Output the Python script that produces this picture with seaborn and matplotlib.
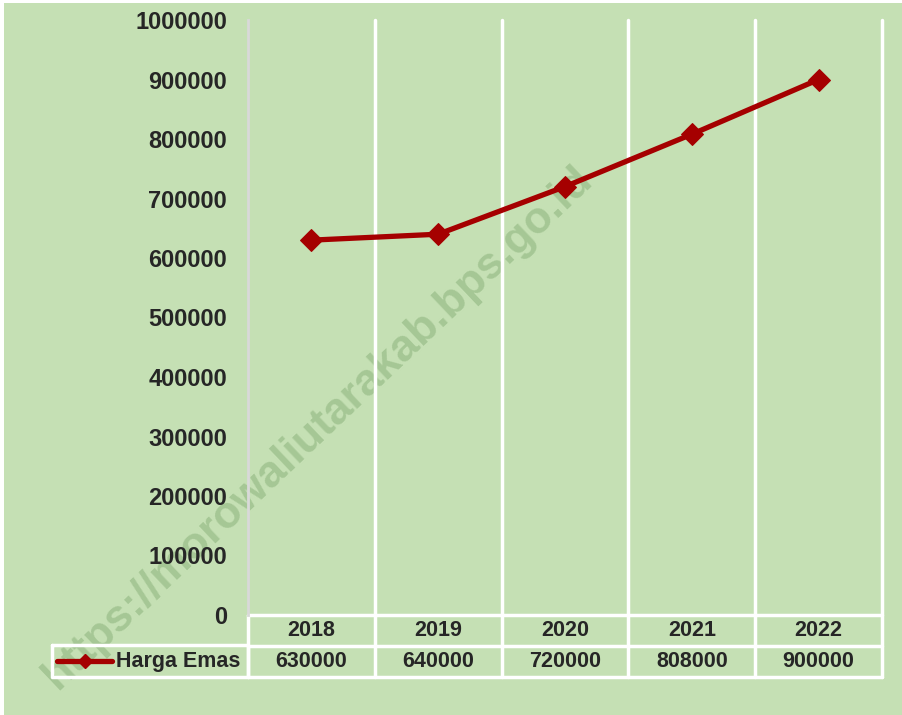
import numpy as np
import pandas as pd
import seaborn as sns
from matplotlib import pyplot as plt
from matplotlib.lines import Line2D
from matplotlib.patches import Rectangle

years = ['2018', '2019', '2020', '2021', '2022']
harga_emas = [630000, 640000, 720000, 808000, 900000]
series_name = 'Harga Emas'
y_ticks = list(range(0, 1000001, 100000))
watermark = 'https://morowaliutarakab.bps.go.id'

green = '#c5e0b4'
red = '#a50000'

sns.set_style('white')
plt.rcParams['font.family'] = ['Liberation Sans', 'DejaVu Sans']

W, H = 902, 715
fig = plt.figure(figsize=(W / 100, H / 100), dpi=100)
fig.patch.set_facecolor('white')
fig.patches.append(Rectangle((4 / W, 0), 1, 1 - 3 / H, transform=fig.transFigure,
                             facecolor=green, edgecolor='none', zorder=-10))

# plot area in pixels
x0, x1, ytop, ybot = 248, 882, 20, 615
ax = fig.add_axes([x0 / W, 1 - ybot / H, (x1 - x0) / W, (ybot - ytop) / H])
ax.patch.set_alpha(0)

df = pd.DataFrame({'year': years, 'value': harga_emas})
df['pos'] = np.arange(len(years))
sns.lineplot(data=df, x='pos', y='value', ax=ax, color=red, lw=3.8,
             marker='D', markersize=11, markeredgecolor=red, zorder=5)

ax.set_xlim(-0.5, len(years) - 0.5)
ax.set_ylim(0, 1000000)
ax.set_yticks(y_ticks)
ax.set_yticklabels([str(v) for v in y_ticks], fontsize=17, fontweight='bold')
ax.set_xticks([])
ax.set_xlabel('')
ax.set_ylabel('')
ax.tick_params(axis='y', length=0, pad=15)
for s in ['top', 'right', 'bottom']:
    ax.spines[s].set_visible(False)
ax.spines['left'].set_color('#d9d9d9')
ax.spines['left'].set_linewidth(2)

# category separators (white) through plot and table
row_h = 31 / (ybot - ytop)
tr = ax.get_xaxis_transform()
for b in np.arange(1, len(years) + 1) - 0.5:
    ax.plot([b, b], [1, -2 * row_h], transform=tr,
            color='white', lw=2.5, clip_on=False, zorder=1)

# data table
for yy in [0, -row_h, -2 * row_h]:
    ax.plot([-0.5, len(years) - 0.5], [yy, yy], transform=tr, color='white',
            lw=2.5, clip_on=False)
ax.plot([-0.5, -0.5], [0, -2 * row_h], transform=tr, color='white', lw=2.5, clip_on=False)
for i, (yr, v) in enumerate(zip(years, harga_emas)):
    ax.text(i, -0.5 * row_h, yr, transform=tr, ha='center', va='center',
            fontsize=15.5, fontweight='bold')
    ax.text(i, -1.5 * row_h, str(v), transform=tr, ha='center', va='center',
            fontsize=15.5, fontweight='bold')

# legend cell
lx0 = 52
fig.add_artist(Line2D([lx0 / W, x0 / W, x0 / W, lx0 / W, lx0 / W],
                      [1 - 645 / H, 1 - 645 / H, 1 - 677 / H, 1 - 677 / H, 1 - 645 / H],
                      color='white', lw=2.5))
fig.add_artist(Line2D([57 / W, 112 / W], [1 - 661 / H, 1 - 661 / H], color=red, lw=3.8))
fig.add_artist(Line2D([85 / W], [1 - 661 / H], color=red, marker='D', markersize=7))
fig.text(116 / W, 1 - 661 / H, series_name, ha='left', va='center',
         fontsize=15.5, fontweight='bold')

# watermark, behind the line
fig.text(318 / W, 1 - 428 / H, watermark, ha='center', va='center', rotation=43.5,
         fontsize=32, fontweight='bold', color='#7fa86f', alpha=0.45, zorder=-5)

fig.savefig('out.png', dpi=100, facecolor=fig.get_facecolor())
